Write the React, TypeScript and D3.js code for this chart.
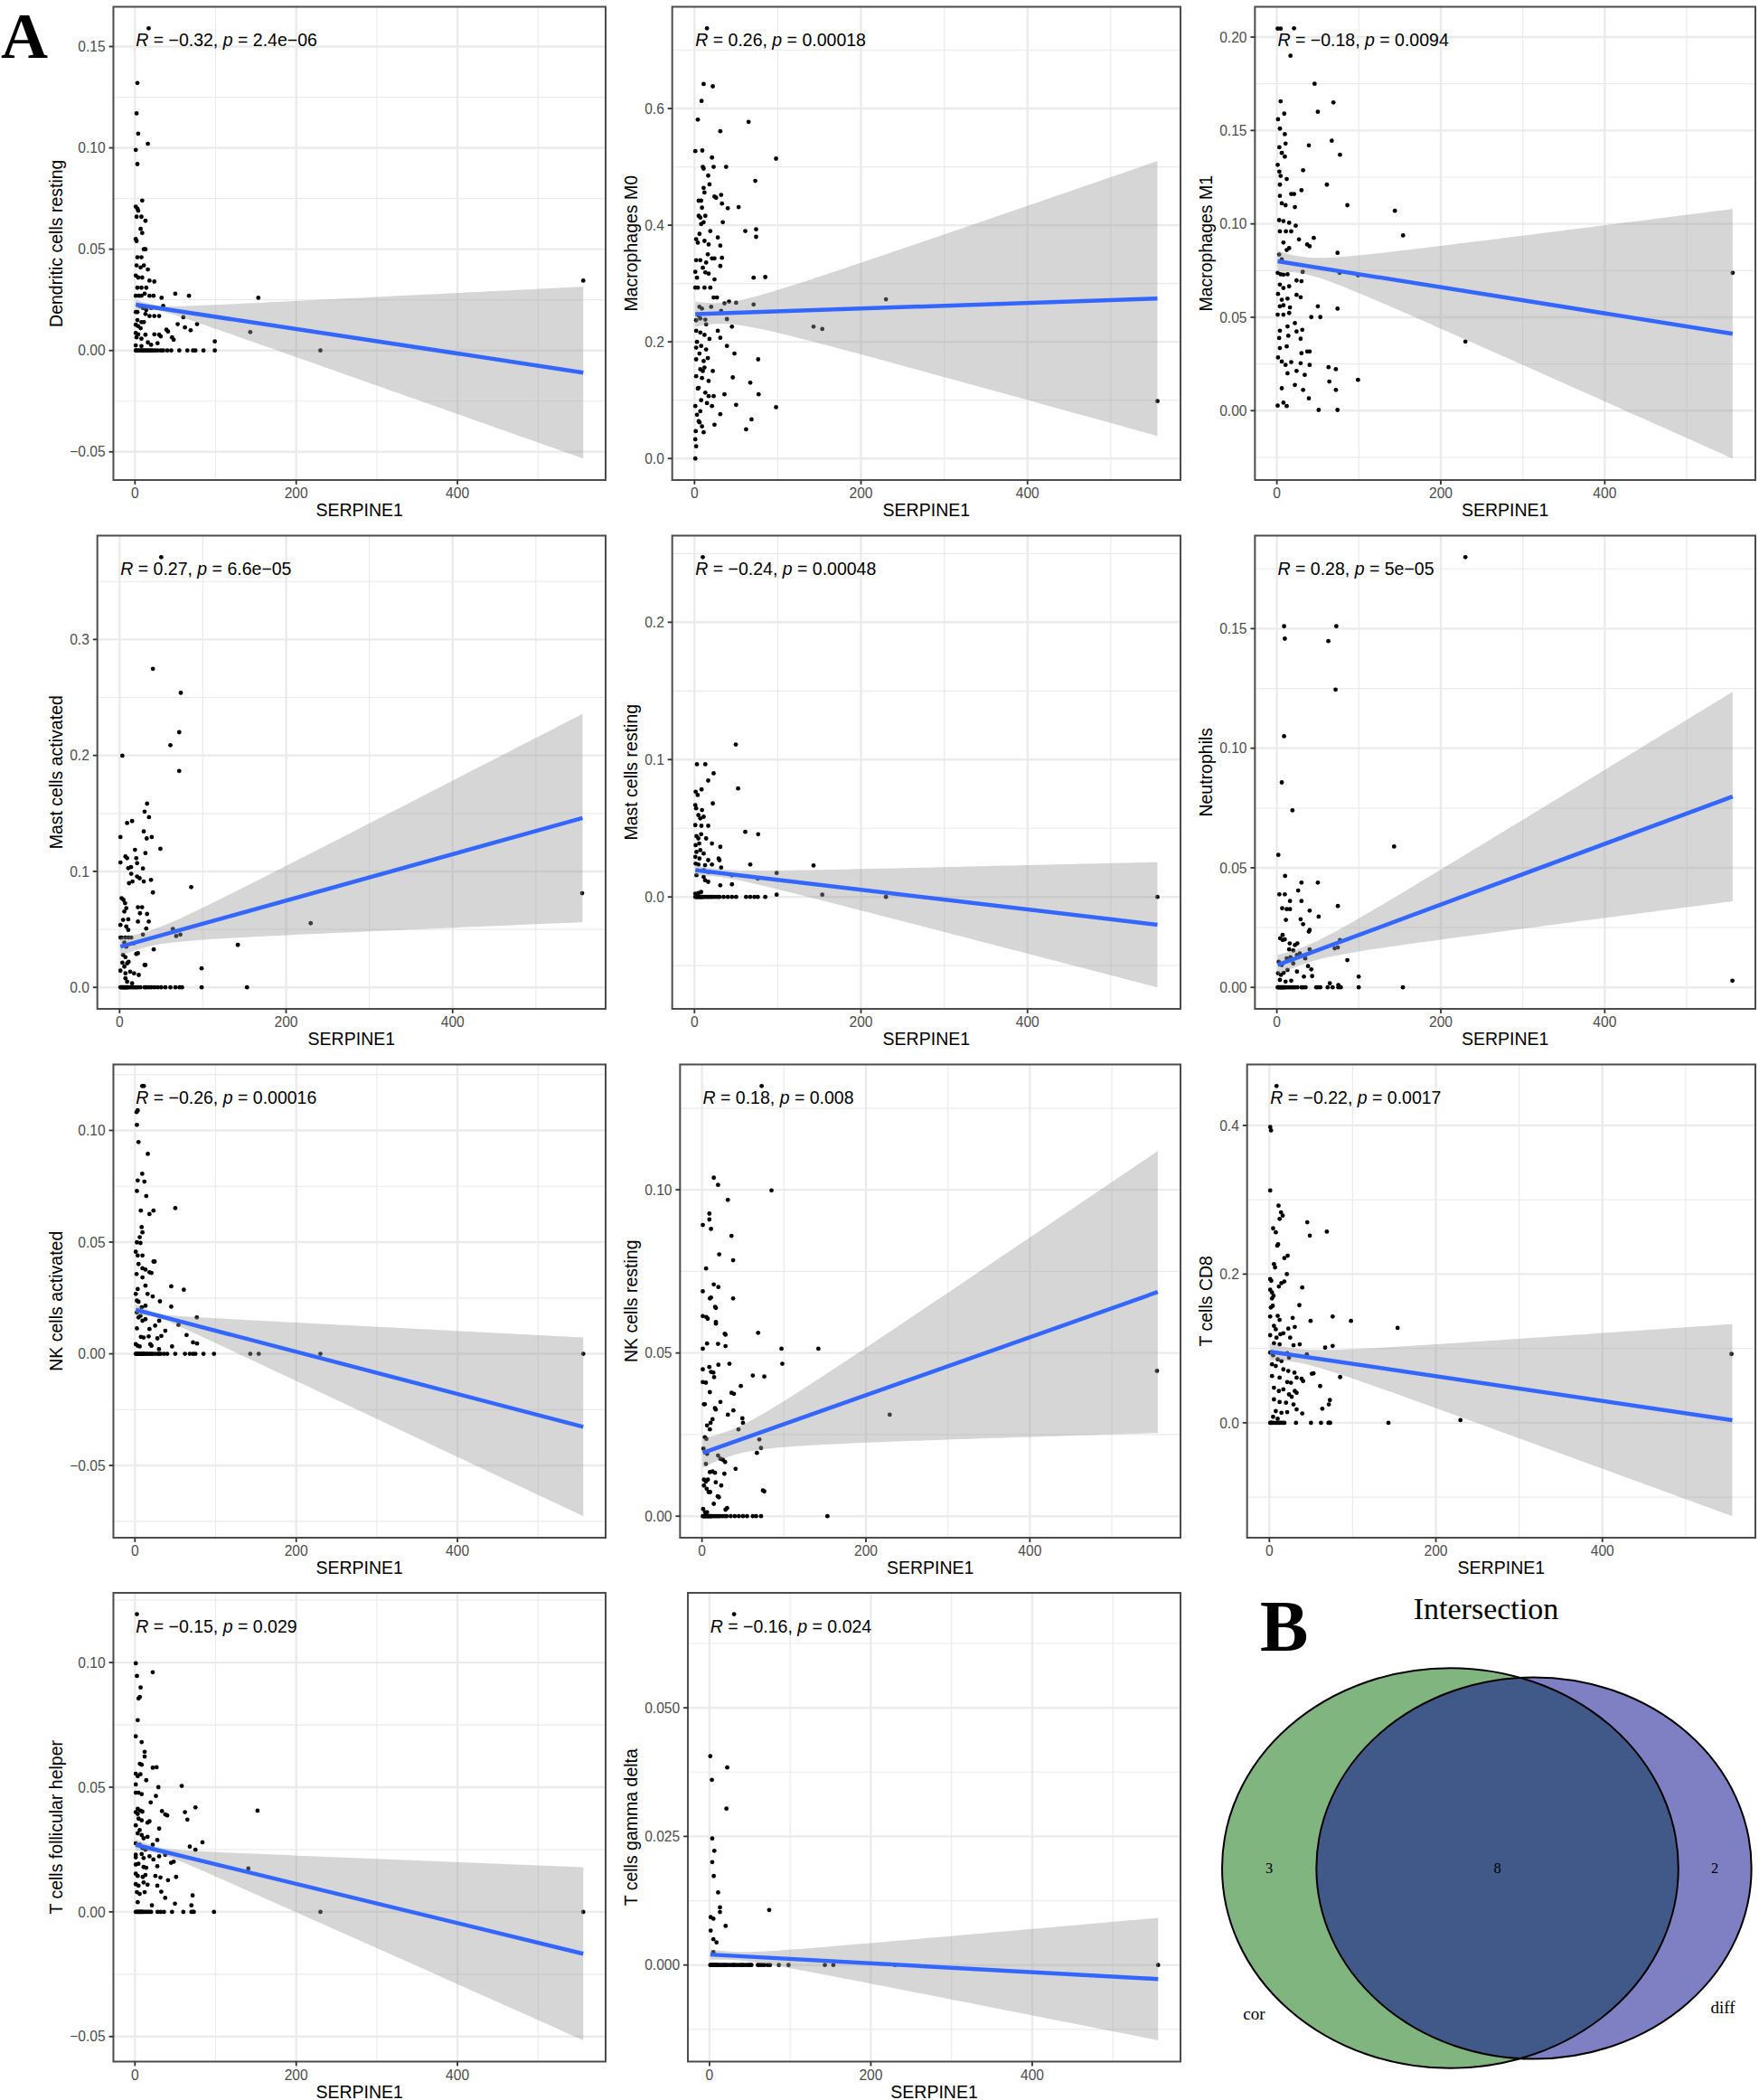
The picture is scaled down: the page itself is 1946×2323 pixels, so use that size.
import React from 'react';
import * as d3 from 'd3';

// SERPINE1 expression range shared by every panel (same samples) and its rough mean
const SERPINE1_RANGE = [1, 556];
const SERPINE1_MEAN = 28;
const xTicks = [0, 200, 400];

// ---- Dendritic cells resting ----
const dcResting = [[17,.159],[3,.132],[2,.117],[4,.107],[16,.102],[1,.099],[3,.092],[9,.074],[1,.071],[3,.070],[4,.069],[2,.066],[8,.066],[13,.064],[7,.060],[9,.058],[1,.055],[2,.054],[11,.050],[13,.050],[3,.046],[8,.046],[11,.042],[2,.042],[7,.041],[16,.040],[1,.037],[4,.036],[9,.036],[18,.0345],[24,.034],[3,.031],[8,.031],[14,.031],[12,.028],[1,.027],[5,.027],[8,.027],[18,.027],[23,.027],[33,.026],[50,.028],[67,.027],[153,.026],[556,.0345],[35,.022],[6,.022],[10,.021],[14,.020],[20,.021],[1,.019],[3,.019],[13,.018],[18,.017],[24,.017],[30,.017],[3,.015],[8,.014],[11,.014],[60,.0164],[1,.0127],[4,.012],[7,.011],[53,.013],[77,.013],[62,.0114],[69,.010],[39,.0103],[41,.0094],[143,.0091],[1,.0086],[4,.008],[13,.0078],[24,.008],[30,.0078],[32,.007],[2,.0065],[8,.0058],[46,.0065],[48,.0053],[99,.0045],[16,.004],[28,.0036],[1,.0025],[8,.0022],[20,.0028]];
const dcRestingZeros = [1,2,4,6,8,10,12,14,16,18,20,22,25,28,32,35,40,45,55,65,72,75,85,99,230];
const dcRestingFit = [.0226, -.0109, .0025, .0424];
const dcRestingTicks = [-0.05, 0, 0.05, 0.1, 0.15];

// ---- Macrophages M0 ----
const m0 = [[15,.7375],[11,.642],[22,.638],[8.5,.613],[4,.581],[65,.577],[31,.561],[1,.527],[9.4,.528],[21,.516],[98,.514],[10,.50],[11,.497],[23,.50],[38,.50],[16.5,.485],[73,.476],[11,.464],[12,.456],[5,.442],[8,.442],[24,.449],[26,.447],[32,.452],[33,.437],[40,.429],[53,.431],[5,.416],[7,.413],[13,.416],[8,.402],[11,.405],[34,.405],[61,.39],[74,.393],[74,.38],[19,.39],[2,.376],[4,.37],[12,.373],[17,.367],[28,.379],[31,.365],[2,.34],[7,.34],[14,.336],[21,.343],[24,.343],[33,.344],[31,.33],[10,.327],[13,.319],[1,.32],[71,.31],[85,.311],[17,.317],[24,.307],[1,.293],[4,.293],[12,.293],[19,.293],[23,.276],[27,.276],[36,.266],[41.5,.269],[50,.267],[71,.264],[230,.273],[6,.26],[9,.257],[5,.245],[7,.24],[2,.237],[13,.238],[32,.253],[39,.239],[45,.226],[143,.226],[153.5,.222],[2,.219],[7,.216],[12,.212],[28,.219],[31,.207],[2,.19],[8,.193],[14,.187],[39,.193],[48,.18],[2,.17],[11,.167],[16,.172],[76.5,.17],[7,.153],[12,.156],[22,.15],[2,.141],[9,.138],[17,.133],[46,.139],[67,.13],[5,.121],[13,.113],[36,.11],[77,.11],[17,.107],[23,.107],[50,.092],[98,.088],[1,.09],[7,.081],[21,.09],[24,.058],[31,.076],[5,.064],[9,.055],[1.5,.047],[68.5,.067],[62,.05],[1,.033],[2,.021],[1,0],[556,.0985],[3,.2],[6,.18],[10,.15],[4,.12],[8,.1],[15,.095],[3,.075],[6,.062],[11,.045],[18,.205],[14,.23],[20,.26],[3,.31],[16,.35],[6,.385],[9,.43],[18,.47]];
const m0Zeros = [];
const m0Fit = [.2474, .2743, .0215, .2356];
const m0Ticks = [0, 0.2, 0.4, 0.6];

// ---- Macrophages M1 ----
const m1 = [[1,.2045],[4.6,.2045],[21,.2047],[16.6,.19],[46,.175],[4.6,.1656],[69,.165],[50,.16],[9,.159],[1.4,.156],[3.7,.151],[9.7,.148],[10.6,.143],[39,.142],[67,.1445],[77,.137],[3,.141],[6,.138],[9.7,.136],[1,.1316],[3,.128],[32,.1287],[4.6,.1257],[12,.124],[3.7,.121],[61,.121],[30,.118],[3.7,.115],[17.5,.116],[21,.116],[86,.11],[144,.107],[6,.111],[10.6,.11],[22,.109],[2.8,.102],[8,.1015],[15,.1006],[23,.099],[154,.0938],[3.7,.096],[11,.096],[17.5,.096],[27,.0917],[45,.0925],[37,.089],[40,.088],[8,.09],[12,.086],[15,.087],[74,.0845],[2.8,.0836],[6,.081],[1,.0738],[4.6,.073],[8,.0728],[13,.073],[31.5,.0743],[76.5,.0738],[99,.0725],[556,.0738],[24,.0697],[30,.0693],[3.7,.0675],[8,.0657],[15,.0666],[1.4,.0625],[6,.0594],[13,.06],[24,.062],[29,.0607],[3.7,.0559],[8,.0564],[16,.0553],[50,.0559],[74,.0546],[1,.0514],[8,.0514],[15,.0523],[42,.0501],[53,.0501],[3.7,.0428],[13,.0451],[22,.0469],[24,.0424],[31,.0433],[2.8,.0389],[14,.0401],[29,.0385],[230,.037],[12,.0344],[3.7,.0335],[37,.0317],[40,.0317],[30,.0308],[1.4,.0285],[6,.0263],[10.6,.0245],[17.5,.026],[29,.0254],[40,.0245],[63,.0233],[72,.0222],[13,.02],[24,.0213],[34,.0192],[6,.012],[22,.0138],[32,.0111],[64,.0156],[72,.0111],[99,.0165],[39,.0066],[8,.0043],[1,.0027],[12,.0025],[51,.0004],[74,.0004]];
const m1Zeros = [];
const m1Fit = [.080, .0412, .0056, .0668];
const m1Ticks = [0, 0.05, 0.1, 0.15, 0.2];

// ---- Mast cells activated ----
const mastAct = [[50,.371],[40,.2747],[73.5,.254],[71.6,.22],[61,.2088],[3.3,.1998],[71.6,.1866],[33,.1584],[30,.1515],[35.3,.1468],[15,.1434],[9,.1417],[1,.1296],[38.6,.1296],[32.5,.1284],[29,.1345],[31,.1158],[49,.1195],[18.5,.1186],[7,.1129],[9,.1114],[1,.1077],[20,.1114],[21,.1071],[10.4,.1028],[13.7,.1037],[14,.0979],[21,.0956],[24,.0941],[28,.1025],[37.7,.0927],[11.3,.0898],[15.5,.0913],[29,.0913],[86,.0864],[40,.0818],[555.5,.0812],[2.4,.0769],[4.7,.0754],[6.6,.0726],[8,.0682],[5.7,.0654],[22,.0691],[27,.0691],[24.5,.0639],[33,.0633],[4.2,.0582],[10.4,.0587],[22,.0567],[35,.0567],[1,.0538],[8,.0524],[229.5,.0553],[64,.0504],[32,.0507],[28,.0455],[10.4,.0495],[1,.043],[2.4,.043],[7,.043],[10.8,.043],[14,.043],[17,.038],[68,.0443],[73,.0455],[41,.0328],[142,.0366],[5.7,.0386],[8,.0351],[4.2,.028],[7,.026],[10.8,.022],[20,.0288],[22,.0294],[3.3,.0213],[5.7,.0179],[9,.0207],[30,.0193],[31,.0193],[98.5,.0164],[1,.0144],[7,.0121],[12.7,.0135],[17.4,.0121],[23,.0107],[7,.0078],[9,.0049],[15,.0035]];
const mastActZeros = [1,2,3,4,5,6,7,8,9,10,12,14,16,18,20,22,25,30,32,35,38,42,46,50,55,61,67,72,75,98.5,153];
const mastActFit = [.0351, .146, .008, .0898];
const mastActTicks = [0, 0.1, 0.2, 0.3];

// ---- Mast cells resting ----
const mastRest = [[10,.2474],[49.6,.111],[3,.0966],[13,.0966],[23,.09],[16.5,.0847],[52.4,.079],[8.5,.0783],[1.4,.0766],[3.8,.0742],[22,.0681],[1,.0669],[2,.0645],[9,.0633],[4.7,.0596],[7,.0572],[11,.0584],[1,.0523],[8.3,.0518],[16.5,.0518],[61,.0474],[76.5,.0457],[2.4,.0443],[4.7,.0426],[8,.0457],[1.4,.0377],[5.7,.0389],[14,.0426],[21,.0389],[31,.0365],[2.4,.0328],[7,.0341],[11,.0316],[1,.0292],[6,.028],[29,.028],[30,.0268],[16.5,.0268],[67,.0236],[143,.0229],[4.7,.0236],[1.4,.0243],[21,.0236],[12.7,.0231],[32,.0214],[11,.0195],[16.5,.0182],[98.7,.0175],[2.4,.0158],[45,.0158],[45,.0092],[76,.0134],[11,.0146],[12.7,.0122],[16.5,.011],[31,.0085],[1,.0024],[4.7,.0029],[8,.0036],[98.7,.0017],[153.5,.0017]];
const mastRestZeros = [1,2,3,4,5,6,7,8,9,10,12,14,16,18,20,22,25,28,30,35,40,45,50,62,67,72,76,85,230,556];
const mastRestFit = [.0195, -.0202, .0037, .0456];
const mastRestTicks = [0, 0.1, 0.2];

// ---- Neutrophils ----
const neutro = [[230,.1799],[8.8,.151],[72.5,.151],[9.7,.1458],[62.8,.1448],[71.6,.1245],[8.8,.105],[6,.0857],[19,.074],[1.8,.0554],[143,.0589],[10,.0466],[30,.0438],[50,.0438],[3,.0389],[9.7,.0389],[26,.0405],[30,.0361],[16,.0361],[74.4,.034],[6.5,.0331],[12,.0327],[16,.0327],[40,.0321],[51,.0296],[11,.0282],[29,.0285],[32,.0264],[39,.0233],[40,.024],[4,.0205],[7,.0198],[9.7,.0201],[15.7,.0184],[22,.0177],[25,.0184],[7,.0219],[77,.0198],[70.5,.0163],[74.4,.0167],[15,.0159],[20,.0154],[40,.0159],[28,.0142],[24.5,.0135],[12,.0121],[16.6,.0126],[34.6,.0121],[86,.0114],[2.3,.0107],[6,.0093],[20,.01],[38,.0089],[42,.0075],[13,.0073],[24.5,.0066],[1.4,.0059],[5,.0052],[8.3,.0061],[33,.0045],[43,.0047],[99.8,.0045],[555.7,.0028],[3.7,.0031],[10.6,.0024],[17.5,.0028],[64.6,.0017],[75,.001]];
const neutroZeros = [1,2,3,4,5,6,7,8,9,10,12,14,16,18,20,22,25,30,32,35,48,50,53,62,68,75,78,99.8,153.7];
const neutroFit = [.00935, .0798, .0042, .0438];
const neutroTicks = [0, 0.05, 0.1, 0.15];

// ---- NK cells activated ----
const nkAct = [[11,.1199],[9,.1199],[3.4,.109],[2,.1082],[2.4,.1025],[4.4,.0948],[16,.0895],[9,.0806],[3.4,.0776],[11.7,.0771],[2.4,.0729],[14,.0706],[7.3,.0641],[18,.0626],[23,.0641],[50,.0652],[8.3,.0567],[9.3,.0544],[5.9,.0522],[2.4,.0499],[6.8,.0496],[1,.0457],[3.4,.044],[9.3,.044],[23,.0413],[24.4,.0413],[4.4,.0402],[9.3,.0383],[13,.0377],[18,.0365],[2,.0357],[9.3,.0342],[13,.0305],[20.5,.0362],[45,.0302],[60.6,.0287],[3.4,.029],[1,.0268],[15.6,.0268],[22,.0257],[2.4,.0238],[4.4,.0233],[31,.0235],[8.3,.0208],[13,.0215],[45,.0211],[2.4,.0185],[4.4,.0163],[6.8,.017],[9.3,.0148],[13,.0155],[30,.0148],[76.7,.0163],[54,.013],[18,.0111],[25,.0126],[37.6,.0103],[2.4,.0114],[64,.0084],[27.8,.0069],[32.7,.008],[7.3,.0076],[10.7,.0073],[17,.0078],[1,.0043],[3.4,.0036],[5.9,.0033],[19,.0043],[20.5,.0036],[46,.0033],[72,.0051],[77,.0046],[29.8,.0021]];
const nkActZeros = [1,2,3,4,5,6,7,8,9,10,11,12,14,16,18,20,22,25,28,30,32,36,40,50,62,68,72,75,85,98,143,153.5,230,556];
const nkActFit = [.0197, -.0327, .0023, .040];
const nkActTicks = [-0.05, 0, 0.05, 0.1];

// ---- NK cells resting ----
const nkRest = [[72.8,.1318],[14.4,.1037],[19.6,.1015],[84.8,.0998],[31.6,.0969],[9,.0927],[9,.0909],[1,.0892],[11,.088],[36,.0859],[21,.0802],[5,.0759],[38,.0784],[14.4,.071],[20,.0702],[1,.0689],[38,.0667],[9.6,.0667],[11,.067],[16,.0641],[17,.0638],[1,.0613],[5.3,.061],[7,.0605],[17,.0595],[17,.059],[68.5,.0562],[27.8,.0559],[28.7,.0556],[6.2,.0529],[19.6,.0528],[28.7,.0521],[97,.0513],[142,.0513],[1,.0513],[33.5,.0467],[98,.0467],[20,.0464],[1,.045],[555,.0445],[9,.0457],[11,.0442],[13.9,.044],[14.8,.0426],[1,.0411],[4.8,.0409],[62,.0431],[76,.0428],[47.4,.0399],[36,.0378],[39,.0375],[9.6,.038],[2.4,.0343],[3.4,.0343],[22.5,.035],[15.8,.0331],[16.8,.0327],[38.3,.0324],[31.6,.0311],[229,.0311],[49.3,.03],[50,.0286],[12.9,.0297],[10.5,.0286],[6.2,.0278],[9.6,.0266],[44.5,.0266],[3.4,.0242],[5.3,.0237],[70,.0235],[72,.0209],[1.9,.0207],[6.2,.0191],[19.6,.0186],[22.5,.0176],[25.4,.0173],[28.2,.0166],[67,.0194],[4.8,.016],[9.6,.0135],[12.9,.0137],[41,.0145],[15.8,.0133],[27.3,.013],[2.4,.0112],[4.8,.0106],[7.2,.0112],[16.8,.0104],[2.4,.0094],[5.7,.0084],[8.1,.0074],[10,.0074],[23.5,.0094],[19.2,.0061],[20.6,.0058],[74.3,.0079],[76,.0076],[14.4,.0038],[1.4,.0022],[30.6,.0025],[28.7,.002],[3.8,.0012],[6.2,.0012]];
const nkRestZeros = [1,2,3,4,5,6,7,8,9,10,11,12,14,16,18,20,22,25,28,30,35,40,45,50,55,62,66,72,153];
const nkRestFit = [.0194, .0687, .0045, .0432];
const nkRestTicks = [0, 0.05, 0.1];

// ---- T cells CD8 ----
const cd8 = [[8.6,.453],[1,.3978],[2,.3933],[1,.3124],[11,.2921],[14,.2831],[16,.2787],[12.3,.2742],[45.5,.2697],[69,.2571],[48.6,.2517],[4.5,.2616],[7.7,.2562],[10.5,.24],[9.5,.2382],[18,.2215],[22,.2247],[5.5,.2135],[6.8,.209],[21,.2],[1,.1933],[2.3,.191],[14.5,.1879],[18,.1901],[11.4,.1834],[39.5,.182],[1,.1789],[3.2,.1753],[5,.1708],[3.2,.1672],[1.8,.1551],[4,.1573],[36,.1582],[10,.1438],[1,.1429],[12.3,.1384],[28,.1411],[76,.1429],[98,.1371],[49.5,.1371],[154,.1276],[5.5,.1303],[7.7,.1258],[30.5,.129],[22.7,.1267],[13.2,.1191],[16.8,.1204],[1,.1178],[8.6,.1146],[25,.1146],[36.4,.1056],[29,.1043],[67,.1011],[76,.1034],[5.5,.107],[12.3,.1056],[555,.0926],[1,.0944],[4.5,.0908],[10,.0854],[14.5,.0831],[21.4,.0935],[23.6,.0876],[45,.0921],[3.2,.0787],[7.7,.0764],[16.8,.0719],[22.7,.0697],[51,.0661],[53,.0665],[85,.0616],[30.1,.0674],[32.7,.0607],[3.2,.0629],[12.3,.0607],[21.4,.0548],[25.9,.0539],[38.6,.0593],[40.5,.0562],[61,.0494],[5.5,.0472],[11.4,.0427],[16.8,.0449],[32.7,.0404],[30.5,.0427],[23.6,.0382],[26.8,.0351],[5.5,.0315],[12.3,.0279],[72.7,.0306],[71.4,.0247],[63.6,.0189],[20,.027],[29,.0247],[32.7,.018],[39.5,.0126],[7.7,.0157],[14.5,.0135],[21.4,.0144],[4.5,.0081],[10,.0054],[229.5,.0036]];
const cd8Zeros = [1,2,3,5,8,10,12,14,16,18,32,50,62,71,72,73,143];
const cd8Fit = [.0957, .0036, .0112, .1292];
const cd8Ticks = [0, 0.2, 0.4];

// ---- T cells follicular helper ----
const tfh = [[2.4,.1194],[1,.0997],[2.4,.0946],[22,.0961],[7,.09],[6,.0862],[4.4,.0856],[3.4,.0769],[1,.0704],[8.3,.0681],[12,.0642],[12,.0623],[6,.0594],[8.3,.059],[22,.0578],[26.8,.058],[1,.0554],[3.4,.0544],[6.8,.0552],[14,.0528],[29,.05],[58,.0505],[1,.0511],[1,.0478],[4.4,.0478],[8.3,.0472],[26,.0465],[19.5,.0439],[3.4,.0413],[6.8,.0406],[9.2,.0402],[1,.04],[3.4,.0393],[33.5,.0404],[37.5,.0391],[40,.0387],[62,.04],[75,.0419],[152,.0406],[65,.037],[4.4,.0374],[8.3,.0367],[15.6,.0358],[18,.0363],[30,.0334],[1,.0347],[5.8,.0328],[3.4,.0315],[8.3,.0308],[10.7,.0295],[15.6,.0301],[27.7,.0288],[83.7,.0279],[68,.0262],[75,.0249],[1,.0275],[5.8,.0269],[9.2,.0256],[13,.0249],[22,.0269],[1,.0229],[1,.0219],[8.3,.0232],[10.7,.0216],[18,.0223],[22.9,.021],[30,.0223],[37.5,.0229],[44.8,.0197],[48,.0201],[1,.019],[4.4,.0193],[10.7,.018],[14,.0177],[27.7,.0183],[140.6,.0174],[1,.0153],[3.4,.0144],[9.7,.014],[13,.0148],[25.3,.0144],[31.6,.0138],[51,.014],[41,.0127],[1,.0111],[4.4,.0105],[10.7,.0118],[15.6,.0109],[27.7,.0105],[2.4,.0079],[5.8,.0072],[12,.0079],[32.6,.0081],[71.5,.0066],[37.5,.0056],[3.4,.0039],[49.6,.0033],[21,.0026],[70,.0026]];
const tfhZeros = [1,2,3,4,5,6,7,8,9,10,12,14,16,18,20,28,32,36,46,60,70,72,73,98,230,556];
const tfhFit = [.0269, -.0168, .0022, .0347];
const tfhTicks = [-0.05, 0, 0.05, 0.1];

// ---- T cells gamma delta ----
const tgd = [[30.5,.0682],[1,.0406],[22,.0384],[3,.036],[21,.0304],[3.4,.0246],[6,.0222],[3.4,.02],[5.3,.0173],[10.7,.0141],[13,.0112],[13,.0103],[74,.0107],[1.5,.0093],[4.8,.009],[20,.0076],[1.5,.0067],[4.8,.005],[8.7,.0044],[4.8,.0025]];
const tgdZeros = [1,2,3,4,5,6,7,8,9,10,12,14,16,18,20,22,25,28,30,32,35,38,40,42,45,48,50,52,60,62,65,68,72,75,86,98,143,153.5,230,556];
const tgdFit = [.00203, -.00273, .001, .0119];
const tgdTicks = [0, 0.025, 0.05];

// ---- Venn (B) ----
const vennSets = ['cor', 'diff'];
const vennOnly = [3, 2];
const vennBoth = 8;

const panels = [
  { name: 'Dendritic cells resting', r: '−0.32', p: '2.4e−06', pts: dcResting, zeros: dcRestingZeros, fit: dcRestingFit, ticks: dcRestingTicks, dec: 2 },
  { name: 'Macrophages M0', r: '0.26', p: '0.00018', pts: m0, zeros: m0Zeros, fit: m0Fit, ticks: m0Ticks, dec: 1 },
  { name: 'Macrophages M1', r: '−0.18', p: '0.0094', pts: m1, zeros: m1Zeros, fit: m1Fit, ticks: m1Ticks, dec: 2 },
  { name: 'Mast cells activated', r: '0.27', p: '6.6e−05', pts: mastAct, zeros: mastActZeros, fit: mastActFit, ticks: mastActTicks, dec: 1 },
  { name: 'Mast cells resting', r: '−0.24', p: '0.00048', pts: mastRest, zeros: mastRestZeros, fit: mastRestFit, ticks: mastRestTicks, dec: 1 },
  { name: 'Neutrophils', r: '0.28', p: '5e−05', pts: neutro, zeros: neutroZeros, fit: neutroFit, ticks: neutroTicks, dec: 2 },
  { name: 'NK cells activated', r: '−0.26', p: '0.00016', pts: nkAct, zeros: nkActZeros, fit: nkActFit, ticks: nkActTicks, dec: 2 },
  { name: 'NK cells resting', r: '0.18', p: '0.008', pts: nkRest, zeros: nkRestZeros, fit: nkRestFit, ticks: nkRestTicks, dec: 2 },
  { name: 'T cells CD8', r: '−0.22', p: '0.0017', pts: cd8, zeros: cd8Zeros, fit: cd8Fit, ticks: cd8Ticks, dec: 1 },
  { name: 'T cells follicular helper', r: '−0.15', p: '0.029', pts: tfh, zeros: tfhZeros, fit: tfhFit, ticks: tfhTicks, dec: 2 },
  { name: 'T cells gamma delta', r: '−0.16', p: '0.024', pts: tgd, zeros: tgdZeros, fit: tgdFit, ticks: tgdTicks, dec: 3 },
];

// layout
const COL_BASE = [86, 722, 1358];
const BOX_SPAN = 584;
const ROW_TOP = [7.5, 592.5, 1177.5, 1762];
const BOX_H = [523.5, 523.5, 523.5, 518.5];
const SANS = "'Liberation Sans', Arial, Helvetica, sans-serif";
const SERIF = "'Liberation Serif', 'Times New Roman', serif";
const TICK_SIZE = 15.6;

let ctx: any = null;
const textW = (s: string, font: string) => {
  if (!ctx) ctx = document.createElement('canvas').getContext('2d');
  ctx.font = font;
  return ctx.measureText(s).width;
};
const fmt = (v: number, dec: number) => v.toFixed(dec).replace('-', '−');

const Panel = ({ cfg, col, row }: any) => {
  const labels = cfg.ticks.map((t: number) => fmt(t, cfg.dec));
  const lw = d3.max(labels, (l: string) => textW(l, `${TICK_SIZE}px ${SANS}`)) as number;
  const base = COL_BASE[col];
  const x0 = base + lw, x1 = base + BOX_SPAN;
  const y0 = ROW_TOP[row], y1 = y0 + BOX_H[row];

  const all = [...cfg.pts, ...cfg.zeros.map((x: number) => [x, 0])];
  const [xa, xb] = SERPINE1_RANGE;
  const [yl, yr, wl, wr] = cfg.fit;
  const slope = (yr - yl) / (xb - xa);
  const dl = xa - SERPINE1_MEAN, dr = xb - SERPINE1_MEAN;
  const b = (wr * wr - wl * wl) / (dr * dr - dl * dl);
  const a = Math.max(wl * wl - b * dl * dl, 1e-9);
  const band = d3.range(81).map(i => {
    const x = xa + (xb - xa) * i / 80;
    const m = yl + slope * (x - xa);
    const h = Math.sqrt(a + b * (x - SERPINE1_MEAN) ** 2);
    return { x, lo: m - h, hi: m + h };
  });

  const xmin = Math.min(xa, d3.min(all, d => d[0])), xmax = Math.max(xb, d3.max(all, d => d[0]));
  const ymin = Math.min(d3.min(all, d => d[1]), d3.min(band, d => d.lo));
  const ymax = Math.max(d3.max(all, d => d[1]), d3.max(band, d => d.hi));
  const px = (xmax - xmin) * 0.05, py = (ymax - ymin) * 0.05;
  const xs = d3.scaleLinear().domain([xmin - px, xmax + px]).range([x0, x1]);
  const ys = d3.scaleLinear().domain([ymin - py, ymax + py]).range([y1, y0]);

  const step = cfg.ticks[1] - cfg.ticks[0];
  const yMinor = [cfg.ticks[0] - step / 2, ...cfg.ticks.map((t: number) => t + step / 2)]
    .filter(v => v > ys.domain()[0] && v < ys.domain()[1]);
  const xMinor = [-100, 100, 300, 500, 700].filter(v => v > xs.domain()[0] && v < xs.domain()[1]);

  const area = d3.area<any>().x(d => xs(d.x)).y0(d => ys(d.lo)).y1(d => ys(d.hi));
  const line = d3.line<any>().x(d => xs(d[0])).y(d => ys(d[1]));
  const topY = d3.max(all, d => d[1]);
  const cx = (x0 + x1) / 2, cy = (y0 + y1) / 2;

  return (
    <g>
      {yMinor.map((v, i) => <line key={'ym' + i} x1={x0} x2={x1} y1={ys(v)} y2={ys(v)} stroke="#EBEBEB" strokeWidth={1.2} />)}
      {xMinor.map((v, i) => <line key={'xm' + i} x1={xs(v)} x2={xs(v)} y1={y0} y2={y1} stroke="#EBEBEB" strokeWidth={1.2} />)}
      {cfg.ticks.map((v: number, i: number) => <line key={'yM' + i} x1={x0} x2={x1} y1={ys(v)} y2={ys(v)} stroke="#EBEBEB" strokeWidth={2.4} />)}
      {xTicks.map((v, i) => <line key={'xM' + i} x1={xs(v)} x2={xs(v)} y1={y0} y2={y1} stroke="#EBEBEB" strokeWidth={2.4} />)}
      {all.map((d, i) => <circle key={'p' + i} cx={xs(d[0])} cy={ys(d[1])} r={2.4} fill="#000" />)}
      <path d={area(band) as string} fill="#999999" fillOpacity={0.4} />
      <path d={line([[xa, yl], [xb, yr]]) as string} stroke="#3366FF" strokeWidth={4.5} fill="none" />
      <text x={xs(xa)} y={ys(topY) + 20} fontFamily={SANS} fontSize={19.5} fill="#000">
        <tspan fontStyle="italic">R</tspan>{` = ${cfg.r}, `}<tspan fontStyle="italic">p</tspan>{` = ${cfg.p}`}
      </text>
      <rect x={x0} y={y0} width={x1 - x0} height={y1 - y0} fill="none" stroke="#4d4d4d" strokeWidth={2} />
      {cfg.ticks.map((v: number, i: number) => (
        <g key={'yt' + i}>
          <line x1={x0 - 4.9} x2={x0} y1={ys(v)} y2={ys(v)} stroke="#333" strokeWidth={1.8} />
          <text x={x0 - 8.8} y={ys(v)} dy="0.36em" textAnchor="end" fontFamily={SANS} fontSize={TICK_SIZE} fill="#4D4D4D">{labels[i]}</text>
        </g>
      ))}
      {xTicks.map((v, i) => (
        <g key={'xt' + i}>
          <line x1={xs(v)} x2={xs(v)} y1={y1} y2={y1 + 4.9} stroke="#333" strokeWidth={1.8} />
          <text x={xs(v)} y={y1 + 20.3} textAnchor="middle" fontFamily={SANS} fontSize={TICK_SIZE} fill="#4D4D4D">{v}</text>
        </g>
      ))}
      <text x={cx} y={y1 + 40} textAnchor="middle" fontFamily={SANS} fontSize={19.5} fill="#000">SERPINE1</text>
      <text transform={`translate(${base - 24},${cy}) rotate(-90)`} dy="0.36em" textAnchor="middle" fontFamily={SANS} fontSize={19.5} fill="#000">{cfg.name}</text>
    </g>
  );
};

const Venn = () => {
  const k = 76.1, squash = 0.877;
  const rCor = k * Math.sqrt(vennOnly[0] + vennBoth);
  const rDiff = k * Math.sqrt(vennOnly[1] + vennBoth);
  const cy = 2066.5;
  const cCor = 1604.4, cDiff = 1697;
  const midOnlyCor = ((cCor - rCor) + (cDiff - rDiff)) / 2;
  const midBoth = ((cDiff - rDiff) + (cCor + rCor)) / 2;
  const midOnlyDiff = ((cCor + rCor) + (cDiff + rDiff)) / 2;
  return (
    <g>
      <defs>
        <clipPath id="corClip"><ellipse cx={cCor} cy={cy} rx={rCor} ry={rCor * squash} /></clipPath>
      </defs>
      <ellipse cx={cCor} cy={cy} rx={rCor} ry={rCor * squash} fill="#81B580" />
      <ellipse cx={cDiff} cy={cy} rx={rDiff} ry={rDiff * squash} fill="#7F7FC4" />
      <ellipse cx={cDiff} cy={cy} rx={rDiff} ry={rDiff * squash} fill="#415989" clipPath="url(#corClip)" />
      <ellipse cx={cCor} cy={cy} rx={rCor} ry={rCor * squash} fill="none" stroke="#000" strokeWidth={2} />
      <ellipse cx={cDiff} cy={cy} rx={rDiff} ry={rDiff * squash} fill="none" stroke="#000" strokeWidth={2} />
      <text x={midOnlyCor} y={cy} dy="0.35em" textAnchor="middle" fontFamily={SERIF} fontSize={16.5}>{vennOnly[0]}</text>
      <text x={midBoth} y={cy} dy="0.35em" textAnchor="middle" fontFamily={SERIF} fontSize={16.5}>{vennBoth}</text>
      <text x={midOnlyDiff} y={cy} dy="0.35em" textAnchor="middle" fontFamily={SERIF} fontSize={16.5}>{vennOnly[1]}</text>
      <text x={cCor - 217} y={cy + 167} textAnchor="middle" fontFamily={SERIF} fontSize={19}>{vennSets[0]}</text>
      <text x={cDiff + 209} y={cy + 160} textAnchor="middle" fontFamily={SERIF} fontSize={19}>{vennSets[1]}</text>
      <text x={1644} y={1791} textAnchor="middle" fontFamily={SERIF} fontSize={34}>Intersection</text>
      <text x={1394} y={1826} fontFamily={SERIF} fontWeight="bold" fontSize={80}>B</text>
    </g>
  );
};

export default function App() {
  return (
    <svg width={1946} height={2323} style={{ position: 'absolute', left: 0, top: 0, background: '#fff' }}>
      <rect width={1946} height={2323} fill="#fff" />
      {panels.map((cfg, i) => <Panel key={i} cfg={cfg} col={i % 3} row={Math.floor(i / 3)} />)}
      <Venn />
      <text x={1} y={64} fontFamily={SERIF} fontWeight="bold" fontSize={72}>A</text>
    </svg>
  );
}
